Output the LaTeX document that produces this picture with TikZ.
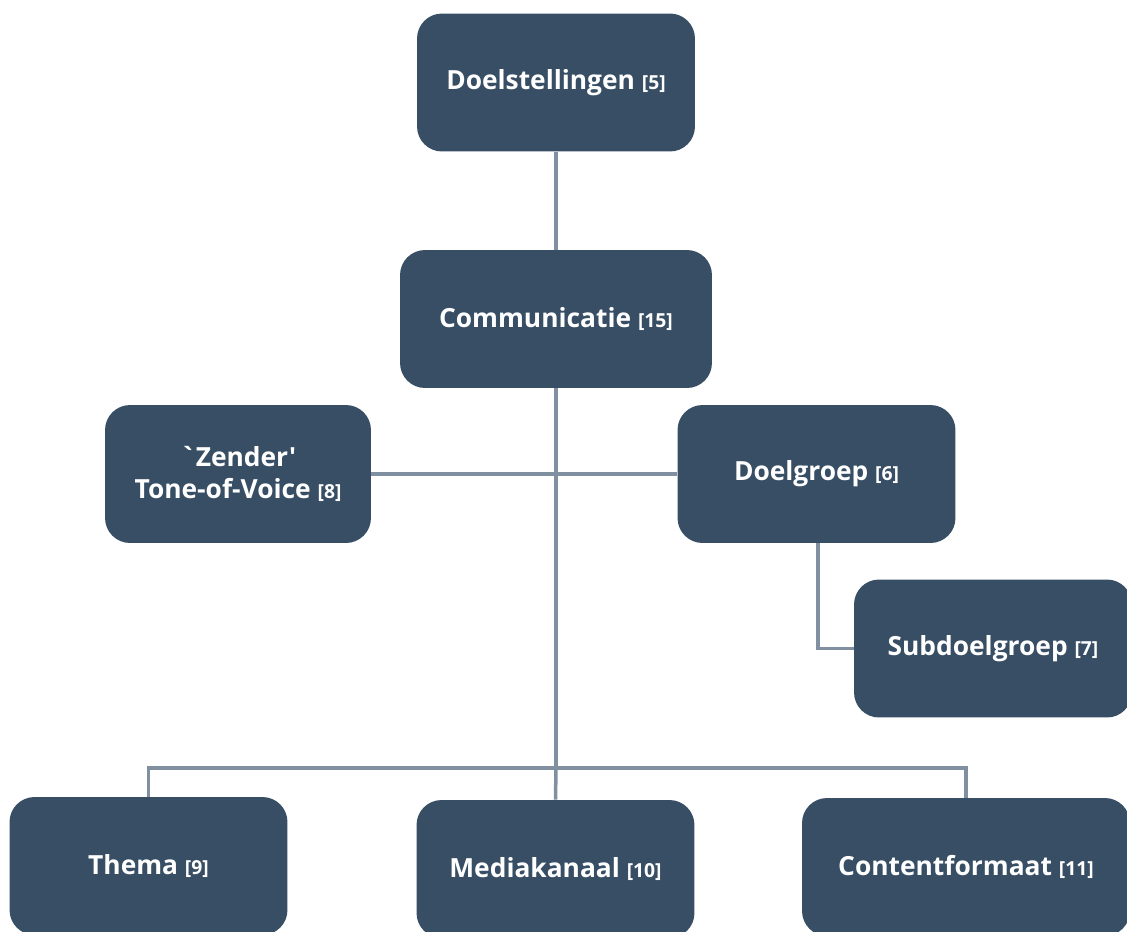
\documentclass[tikz,border=0pt]{standalone}
\usepackage{fontspec}
\setmainfont{Open Sans}
\newfontfamily\rawfont{Open Sans}
\usetikzlibrary{positioning}
\definecolor{boxblue}{HTML}{374E65}
\definecolor{linkgray}{HTML}{8090A0}
\tikzset{
     topic/.style={draw=none, fill=boxblue, rounded corners=0.5cm, text=white,
        font=\bfseries\fontsize{15}{18.5}\selectfont, align=center,
        minimum width=5.56cm, minimum height=2.76cm, inner sep=2pt},
     link/.style={linkgray, line width=2pt},
    }
\newcommand{\refnr}[1]{{\fontsize{11}{13}\selectfont[#1]}}
\begin{document}
\begin{tikzpicture}[x=0.02cm, y=-0.02cm]
      \clip (0,0) rectangle (1127,931);
      \useasboundingbox (0,0) rectangle (1127,931);
      % nodes
      \node [topic] (doel)  at (556,82.5)  {Doelstellingen \refnr{5}};
      \node [topic, minimum width=6.24cm] (comm) at (556,319) {Communicatie \refnr{15}};
      \node [topic, minimum width=5.32cm] (zend) at (238,474) {{\rawfont\bfseries `Zender'}\\Tone-of-Voice \refnr{8}};
      \node [topic] (dgrp)  at (816.5,474) {Doelgroep \refnr{6}};
      \node [topic] (sub)   at (993,648.5) {Subdoelgroep \refnr{7}};
      \node [topic] (thema) at (148.5,866) {Thema \refnr{9}};
      \node [topic] (media) at (555.5,869) {Mediakanaal \refnr{10}};
      \node [topic, minimum width=6.56cm] (cont) at (966,867) {Contentformaat \refnr{11}};

      \coordinate (bus) at (556,768);

      % links
      \draw [link] (doel.south) -- (comm.north);
      \draw [link] (comm.south) -- (bus);
      \draw [link] (zend.east) -- (dgrp.west);
      \draw [link] (dgrp.south -| 818,0) |- (sub.west);
      \draw [link] (thema.north) |- (bus) -| (cont.north);
      \draw [link] (bus) -- (media.north);
\end{tikzpicture}
\end{document}
